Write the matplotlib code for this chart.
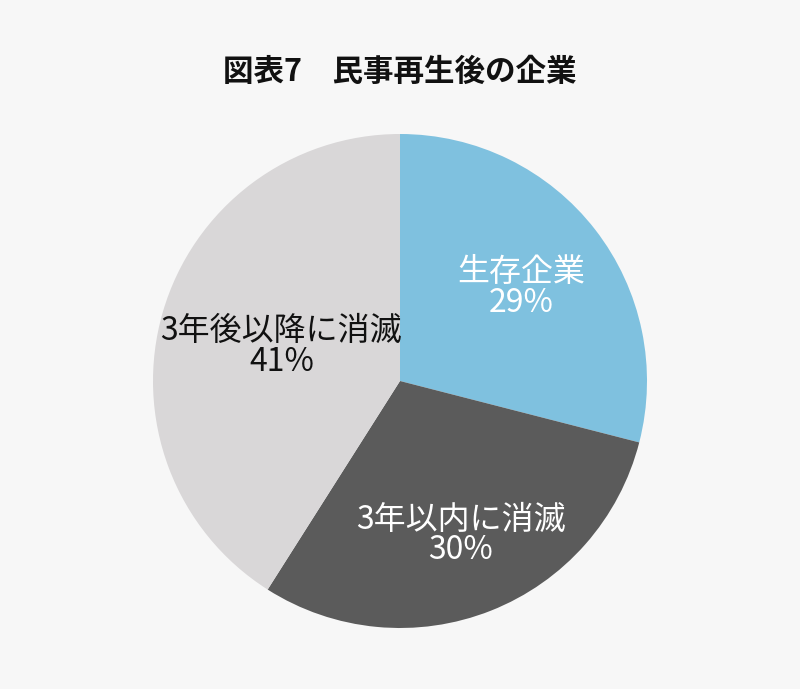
import numpy as np
import matplotlib
matplotlib.use("Agg")
from matplotlib import pyplot as plt

plt.rcParams['font.family'] = ['Noto Sans CJK JP', 'DejaVu Sans']

# data
names = ['生存企業', '3年以内に消滅', '3年後以降に消滅']
shares = [29, 30, 41]
colors = ['#7fc1df', '#5b5b5b', '#d9d7d8']
text_colors = ['white', 'white', '#111111']
label_dist = [0.62, 0.67, 0.50]

bg = '#f7f7f7'
fig = plt.figure(figsize=(8, 6.89), dpi=100, facecolor=bg)
# axes box sized so pie radius is ~247px, centre at (400, 381)
r_px = 247
cx, cy = 400, 381
W, H = 800, 689
ax = fig.add_axes([(cx - r_px) / W, (H - cy - r_px) / H, 2 * r_px / W, 2 * r_px / H])
ax.set_facecolor(bg)

wedges, _ = ax.pie(shares, colors=colors, startangle=90, counterclock=False,
                   wedgeprops=dict(linewidth=0))
ax.set_aspect('equal')
ax.set_xlim(-1, 1)
ax.set_ylim(-1, 1)

# labels inside each slice
for w, name, v, tc, d in zip(wedges, names, shares, text_colors, label_dist):
    mid = np.deg2rad((w.theta1 + w.theta2) / 2)
    ax.text(d * np.cos(mid), d * np.sin(mid), f'{name}\n{v}%', color=tc,
            ha='center', va='center', fontsize=23, linespacing=0.95)

fig.text(0.5, 1 - 72 / H, '図表7　民事再生後の企業', ha='center', va='center',
         fontsize=22, fontweight='bold', color='#111111')

fig.savefig('out.png', dpi=100, facecolor=bg)
